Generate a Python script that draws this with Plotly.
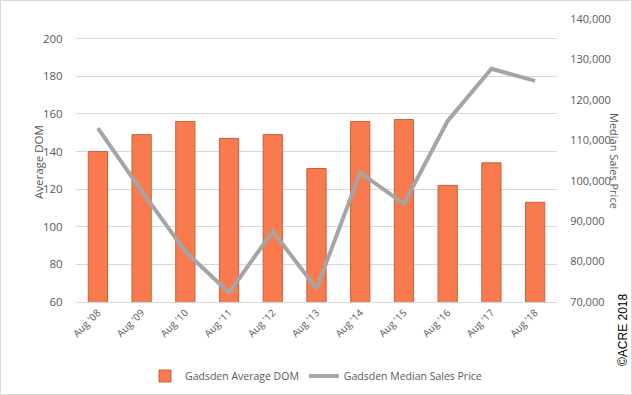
import plotly.graph_objects as go

categories = ["Aug '08", "Aug '09", "Aug '10", "Aug '11", "Aug '12", "Aug '13",
              "Aug '14", "Aug '15", "Aug '16", "Aug '17", "Aug '18"]
avg_dom = [140, 149, 156, 147, 149, 131, 156, 157, 122, 134, 113]
median_price = [113000, 97500, 82500, 72300, 87500, 73300, 102000, 94300, 114800, 127700, 124700]
left_ticks = [60, 80, 100, 120, 140, 160, 180, 200]
right_ticks = [70000, 80000, 90000, 100000, 110000, 120000, 130000, 140000]

FONT = "Open Sans"
GRAY = "#595959"
L, R, T, B = 76, 75, 19, 93
W, H = 632, 395
pw = W - L - R
ph = H - T - B


def px2paper(px, py):
    return (px - L) / pw, (H - B - py) / ph


fig = go.Figure()
fig.add_trace(go.Bar(
    x=categories, y=avg_dom, name="Gadsden Average DOM",
    marker=dict(color="#F87A4E", line=dict(color="#C8603C", width=1)),
    width=0.44, yaxis="y",
))
fig.add_trace(go.Scatter(
    x=categories, y=median_price, name="Gadsden Median Sales Price",
    mode="lines", line=dict(color="#A5A5A5", width=4), yaxis="y2",
))

fig.update_layout(
    width=W, height=H,
    margin=dict(l=L, r=R, t=T, b=B, autoexpand=False),
    paper_bgcolor="white", plot_bgcolor="white",
    font=dict(family=FONT, size=11, color=GRAY),
    showlegend=True,
    legend=dict(orientation="h", x=0.5, xanchor="center", xref="container",
                y=(H - 376) / H, yanchor="middle", yref="container",
                font=dict(size=10.5, color=GRAY), itemwidth=30, tracegroupgap=0),
    xaxis=dict(tickangle=-45, showgrid=False, showline=True, linecolor="#D9D9D9",
               tickfont=dict(size=10, color=GRAY), ticks="", automargin=False),
    yaxis=dict(range=[60, 210.5], tickvals=left_ticks, showgrid=True, gridcolor="#D9D9D9",
               zeroline=False, tickfont=dict(size=11.5, color=GRAY), ticks="outside",
               ticklen=10, tickcolor="rgba(0,0,0,0)", automargin=False),
    yaxis2=dict(range=[70000, 140000], tickvals=right_ticks, overlaying="y", side="right",
                showgrid=False, zeroline=False, tickformat=",", automargin=False,
                tickfont=dict(size=11, color=GRAY), ticks="outside", ticklen=10,
                tickcolor="rgba(0,0,0,0)"),
)

for text, px, py, ang, col, fam, sz in [
    ("Average DOM", 38, 162, -90, GRAY, FONT, 11.5),
    ("Median Sales Price", 615, 161, 90, GRAY, FONT, 11),
    ("©ACRE 2018", 623, 330, -90, "black", "Liberation Sans", 12),
]:
    x, y = px2paper(px, py)
    fig.add_annotation(text=text, x=x, y=y, xref="paper", yref="paper", showarrow=False,
                       textangle=ang, xanchor="center", yanchor="middle",
                       font=dict(size=sz, color=col, family=fam))

x0, y1 = px2paper(0.5, 0.5)
x1, y0 = px2paper(631.5, 394.5)
fig.add_shape(type="rect", xref="paper", yref="paper", x0=x0, x1=x1, y0=y0, y1=y1,
              line=dict(color="#D9D9D9", width=1))

fig.write_html("out.html", config={"displayModeBar": False},
               post_script="document.body.style.margin='0';")
